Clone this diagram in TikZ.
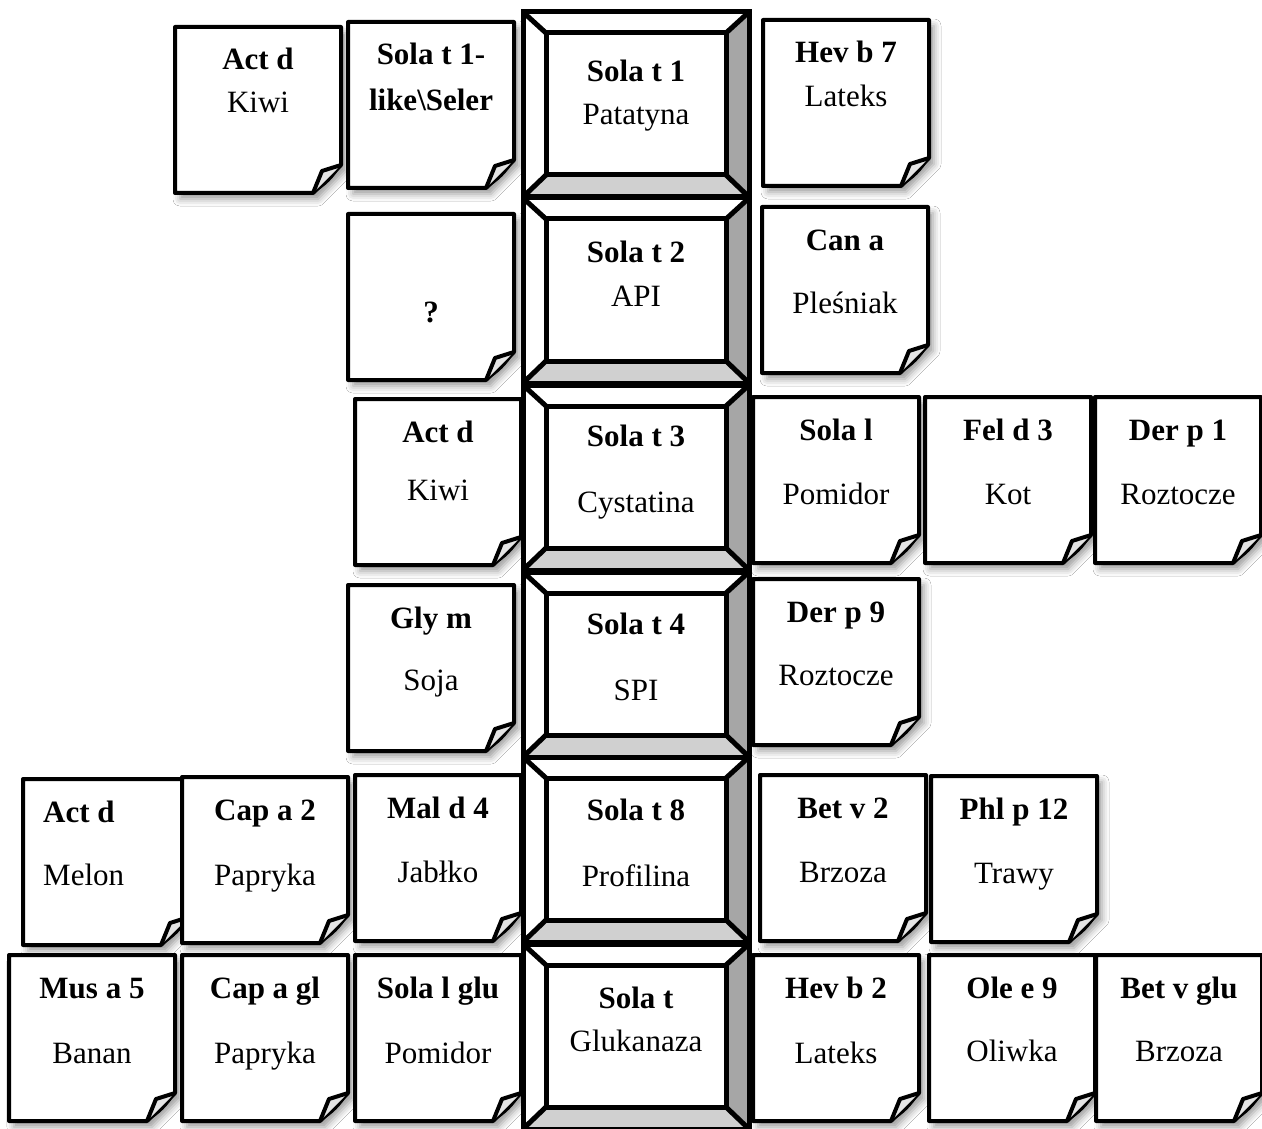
\documentclass[tikz,border=0pt]{standalone}
\usepackage{fontspec}
\setmainfont{Liberation Serif}
\usetikzlibrary{shadows.blur}
\definecolor{facedark}{HTML}{A6A6A6}
\definecolor{facelight}{HTML}{D0D0D0}
\definecolor{flapgray}{HTML}{E4E4E4}
\newcommand{\notesize}{\fontsize{31}{37}\selectfont}
\tikzset{
  bevelline/.style={line width=5pt, draw=black, line join=miter},
  noteline/.style={line width=4pt, draw=black, line join=round},
  notebody/.style={noteline, fill=white, blur shadow={shadow xshift=5pt, shadow yshift=-6pt, shadow blur radius=7pt, shadow opacity=40}},
  flapline/.style={line width=1.6pt, draw=black},
  toptext/.style={font=\notesize\bfseries, anchor=base, inner sep=0pt},
  subtext/.style={font=\notesize, inner sep=0pt},
}
\begin{document}
\begin{tikzpicture}[x=1pt, y=-1pt]
  \useasboundingbox (0,0) rectangle (1262,1129);
  \fill[white] (0,0) rectangle (1262,1129);
  % sticky notes 166 x 166, folded corner c=28
  \foreach \x/\y/\tx/\an/\a/\b/\yb [count=\i] in {
      175/27/83/base/Act d/Kiwi/86,
      348/22/83/base/Sola t 1-/{\bfseries like\textbackslash Seler}/89,
      763/20/83/base/Hev b 7/Lateks/87,
      348/214/83/base//{\bfseries ?}/108,
      762/207/83/base/Can a/Pleśniak/106,
      355/399/83/base/Act d/Kiwi/101,
      753/397/83/base/Sola l/Pomidor/107,
      925/397/83/base/Fel d 3/Kot/107,
      1095/397/83/base/Der p 1/Roztocze/107,
      348/585/83/base/Gly m/Soja/105,
      753/579/83/base/Der p 9/Roztocze/106,
      23/779/20/base west/Act d/Melon/106,
      182/777/83/base/Cap a 2/Papryka/108,
      355/775/83/base/Mal d 4/Jabłko/107,
      760/775/83/base/Bet v 2/Brzoza/107,
      931/776/83/base/Phl p 12/Trawy/107,
      9/955/83/base/Mus a 5/Banan/108,
      182/955/83/base/Cap a gl/Papryka/108,
      355/955/83/base/Sola l glu/Pomidor/108,
      753/955/83/base/Hev b 2/Lateks/108,
      929/955/83/base/Ole e 9/Oliwka/106,
      1096/955/83/base/Bet v glu/Brzoza/106}{
    \begin{scope}[shift={(\x,\y)}]
      \draw[notebody] (0,0) -- (166,0) -- (166,138) -- (138,166) -- (0,166) -- cycle;
      \fill[flapgray] (166,138) -- (147,144) -- (138,166) -- cycle;
      \draw[flapline] (166,138) to[bend left=12] (138,166);
      \draw[noteline] (166,138) -- (147,144) -- (138,166);
      \node[toptext, anchor=\an] (note\i-top) at (\tx,43) {\a};
      \node[subtext, anchor=\an] (note\i-sub) at (\tx,\yb) {\b};
    \end{scope}
  }
  % bevelled column, 226 x 185 per block
  \foreach \t/\a/\b/\ya/\yb [count=\i] in {
      12/Sola t 1/Patatyna/70/113,
      198/Sola t 2/API/64/108,
      385/Sola t 3/Cystatina/61/127,
      572/Sola t 4/SPI/62/128,
      757/Sola t 8/Profilina/63/129,
      944/Sola t/Glukanaza/64/107}{
    \begin{scope}[shift={(523,\t)}]
      \fill[white] (0,0) rectangle (226,185);
      \fill[facelight] (0,185) -- (226,185) -- (203,163) -- (23,163) -- cycle;
      \fill[facedark] (226,0) -- (203,21) -- (203,163) -- (226,185) -- cycle;
      \draw[bevelline] (0,0) rectangle (226,185);
      \draw[bevelline] (23,21) rectangle (203,163);
      \draw[bevelline] (0,0) -- (23,21) (226,0) -- (203,21)
                       (0,185) -- (23,163) (226,185) -- (203,163);
      \node[toptext] (sola\i-top) at (113,\ya) {\a};
      \node[subtext, anchor=base] (sola\i-sub) at (113,\yb) {\b};
    \end{scope}
  }
\end{tikzpicture}
\end{document}
